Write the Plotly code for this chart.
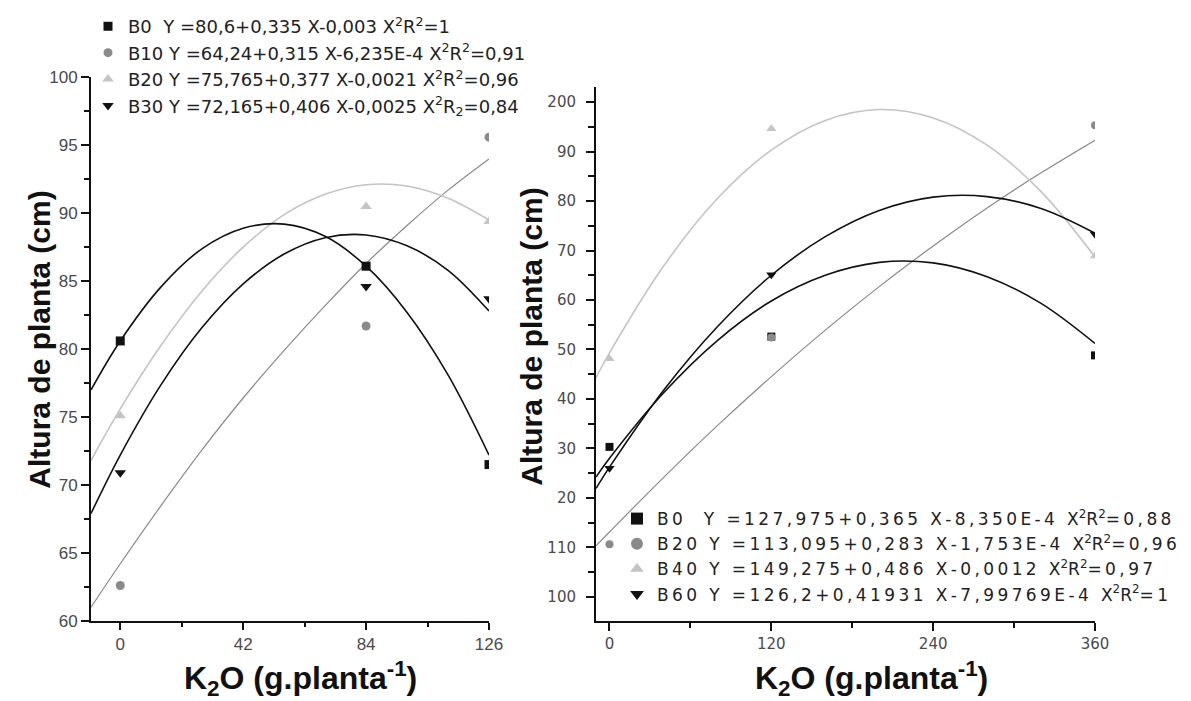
import re
import plotly.graph_objects as go

# ---------------- data ----------------
# Left panel
x_left = [0, 84, 126]
left_B0 = [80.6, 86.1, 71.5]
left_B10 = [62.6, 81.7, 95.6]
left_B20 = [75.1, 90.5, 89.4]
left_B30 = [70.9, 84.6, 83.7]

# fitted curves of the left panel
xfit_left = [-10, 0, 14, 28, 42, 56, 70, 84, 98, 112, 126]
fit_left_B0 = [77.0, 80.6, 84.6, 87.4, 88.9, 89.2, 88.3, 86.1, 82.7, 78.1, 72.2]
fit_left_B10 = [61.0, 64.2, 68.5, 72.6, 76.4, 79.9, 83.2, 86.3, 89.1, 91.7, 94.0]
fit_left_B20 = [71.8, 75.6, 80.3, 84.3, 87.5, 89.9, 91.4, 92.1, 92.0, 91.1, 89.5]
fit_left_B30 = [67.9, 72.2, 77.4, 81.6, 84.8, 87.0, 88.2, 88.4, 87.6, 85.8, 82.8]

left_names = [
    "B0\u00a0\u00a0Y =80,6+0,335 X-0,003 X<sup>2</sup>R<sup>2</sup>=1",
    "B10 Y =64,24+0,315 X-6,235E-4 X<sup>2</sup>R<sup>2</sup>=0,91",
    "B20 Y =75,765+0,377 X-0,0021 X<sup>2</sup>R<sup>2</sup>=0,96",
    "B30 Y =72,165+0,406 X-0,0025 X<sup>2</sup>R<sub>2</sub>=0,84",
]
left_ticks_x = [0, 42, 84, 126]

# Right panel
x_right = [0, 120, 360]
right_B0 = [130.3, 152.6, 148.8]
right_B20 = [110.6, 152.4, 195.3]
right_B40 = [148.1, 194.6, 168.9]
right_B60 = [126.0, 165.1, 173.3]

xfit_right = [-10, 0, 40, 80, 120, 160, 200, 240, 280, 320, 360]
fit_right_B0 = [124.2, 128.0, 141.2, 151.8, 159.8, 165.0, 167.6, 167.5, 164.7, 159.3, 151.2]
fit_right_B20 = [110.3, 113.1, 124.1, 134.6, 144.5, 153.9, 162.7, 170.9, 178.6, 185.7, 192.3]
fit_right_B40 = [144.3, 149.3, 166.8, 180.5, 190.3, 196.3, 198.5, 196.8, 191.3, 181.9, 168.7]
fit_right_B60 = [121.9, 126.2, 141.7, 154.6, 165.0, 172.8, 178.1, 180.8, 180.9, 178.5, 173.5]

right_names = [
    "B0\u00a0\u00a0Y =127,975+0,365 X-8,350E-4 X<sup>2</sup>R<sup>2</sup>=0,88",
    "B20 Y =113,095+0,283 X-1,753E-4 X<sup>2</sup>R<sup>2</sup>=0,96",
    "B40 Y =149,275+0,486 X-0,0012 X<sup>2</sup>R<sup>2</sup>=0,97",
    "B60 Y =126,2+0,41931 X-7,99769E-4 X<sup>2</sup>R<sup>2</sup>=1",
]
right_ticks_x = [0, 120, 240, 360]
right_tickvals_y = [100, 110, 120, 130, 140, 150, 160, 170, 180, 190, 200]
right_ticktext_y = ["100", "110", "20", "30", "40", "50", "60", "70", "80", "90", "200"]

y_title = "Altura de planta (cm)"
x_title = "K<sub>2</sub>O (g.planta<sup>-1</sup>)"


def spaced(s):
    """Letter-spaced look of the right-hand legend (thin spaces between glyphs)."""
    parts = re.split(r"(<[^>]+>)", s)
    return "".join(p if p.startswith("<") else "\u2009".join(p) for p in parts)


# ---------------- styles ----------------
BLACK = "#111111"
MID = "#8a8a8a"
LIGHT = "#c4c4c4"
FONT = "Liberation Sans, Arial, sans-serif"
WIDE = "DejaVu Sans, sans-serif"

OFF = 8               # page body margin of the html page
W, H = 1191 - OFF, 701 - OFF


def px_x(p):
    return (p - OFF) / W


def px_y(p):
    return 1 - (p - OFF) / H


fig = go.Figure()

# left fitted curves
for ys, col, wd in [(fit_left_B10, MID, 1.2), (fit_left_B20, LIGHT, 1.6),
                    (fit_left_B0, BLACK, 1.6), (fit_left_B30, BLACK, 1.6)]:
    fig.add_trace(go.Scatter(x=xfit_left, y=ys, mode="lines", line=dict(color=col, width=wd, shape="spline"),
                             showlegend=False, hoverinfo="skip", xaxis="x", yaxis="y"))

left_series = [left_B0, left_B10, left_B20, left_B30]
left_marks = [("square", BLACK, 9), ("circle", MID, 9), ("triangle-up", LIGHT, 10), ("triangle-down", BLACK, 10)]
for ys, (sym, col, sz), nm in zip(left_series, left_marks, left_names):
    fig.add_trace(go.Scatter(x=x_left, y=ys, mode="markers", name=nm,
                             marker=dict(symbol=sym, color=col, size=sz, line=dict(width=0)),
                             xaxis="x", yaxis="y", legend="legend"))

# right fitted curves
for ys, col, wd in [(fit_right_B20, MID, 1.2), (fit_right_B40, LIGHT, 1.6),
                    (fit_right_B0, BLACK, 1.6), (fit_right_B60, BLACK, 1.6)]:
    fig.add_trace(go.Scatter(x=xfit_right, y=ys, mode="lines", line=dict(color=col, width=wd, shape="spline"),
                             showlegend=False, hoverinfo="skip", xaxis="x2", yaxis="y2"))

right_series = [right_B0, right_B20, right_B40, right_B60]
right_marks = [("square", BLACK, 8), ("circle", MID, 8), ("triangle-up", LIGHT, 9), ("triangle-down", BLACK, 9)]
for ys, (sym, col, sz), nm in zip(right_series, right_marks, right_names):
    fig.add_trace(go.Scatter(x=x_right, y=ys, mode="markers", name=spaced(nm),
                             marker=dict(symbol=sym, color=col, size=sz, line=dict(width=0)),
                             xaxis="x2", yaxis="y2", legend="legend2"))

tick_left = dict(family=FONT, size=17, color="#4a4a4a")
tick_right = dict(family=WIDE, size=15, color="#4a4a4a")
axis_common = dict(showline=True, linecolor=BLACK, showgrid=False, zeroline=False,
                   ticks="outside", tickcolor=BLACK, automargin=False)

fig.update_layout(
    width=W, height=H,
    margin=dict(l=0, r=0, t=0, b=0),
    paper_bgcolor="white", plot_bgcolor="white",
    font=dict(family=FONT, color="#222222"),
    xaxis=dict(domain=[px_x(91), px_x(489)], range=[-10, 126], anchor="y",
               tickmode="array", tickvals=left_ticks_x, ticklen=7, tickwidth=1.5, linewidth=2,
               tickfont=tick_left,
               minor=dict(tickmode="array", tickvals=[21, 63, 105], ticks="outside", ticklen=4, tickcolor=BLACK),
               **axis_common),
    yaxis=dict(domain=[px_y(620), px_y(71)], range=[60, 100], anchor="x",
               tickmode="linear", tick0=60, dtick=5, ticklen=8, tickwidth=1.5, linewidth=2,
               tickfont=tick_left,
               minor=dict(tick0=62.5, dtick=5, ticks="outside", ticklen=5, tickcolor=BLACK),
               **axis_common),
    xaxis2=dict(domain=[px_x(596), px_x(1095)], range=[-10, 360], anchor="y2",
                tickmode="array", tickvals=right_ticks_x, ticklen=8, tickwidth=1.5, linewidth=2,
                tickfont=tick_right,
                minor=dict(tickmode="array", tickvals=[60, 180, 300], ticks="outside", ticklen=5, tickcolor=BLACK),
                **axis_common),
    yaxis2=dict(domain=[px_y(620), px_y(81)], range=[95.14, 203], anchor="x2",
                tickmode="array", tickvals=right_tickvals_y, ticktext=right_ticktext_y,
                ticklen=8, tickwidth=1.5, linewidth=2, tickfont=tick_right, ticklabelstandoff=7,
                minor=dict(tick0=105, dtick=10, ticks="outside", ticklen=6, tickcolor=BLACK),
                **axis_common),
    legend=dict(x=px_x(88), y=px_y(1), xanchor="left", yanchor="top",
                bgcolor="rgba(0,0,0,0)", borderwidth=0, tracegroupgap=0,
                font=dict(family=WIDE, size=18, color="#222222"), itemsizing="trace"),
    legend2=dict(x=px_x(617), y=px_y(499), xanchor="left", yanchor="top",
                 bgcolor="rgba(0,0,0,0)", borderwidth=0, tracegroupgap=0,
                 font=dict(family=WIDE, size=17, color="#222222"), itemsizing="constant"),
    showlegend=True,
)

ytitle_font = dict(family=FONT, size=30, color="#111111")
xtitle_font = dict(family=FONT, size=32, color="#111111")
annots = [
    dict(text="<b>" + y_title + "</b>", x=px_x(40), y=px_y(336), textangle=-90, font=ytitle_font),
    dict(text="<b>" + y_title + "</b>", x=px_x(532), y=px_y(333), textangle=-90, font=ytitle_font),
    dict(text="<b>" + x_title + "</b>", x=px_x(300), y=px_y(678), font=xtitle_font),
    dict(text="<b>" + x_title + "</b>", x=px_x(871), y=px_y(678), font=xtitle_font),
]
for a in annots:
    fig.add_annotation(xref="paper", yref="paper", showarrow=False, xanchor="center", yanchor="middle", **a)

fig.write_html("out.html")
